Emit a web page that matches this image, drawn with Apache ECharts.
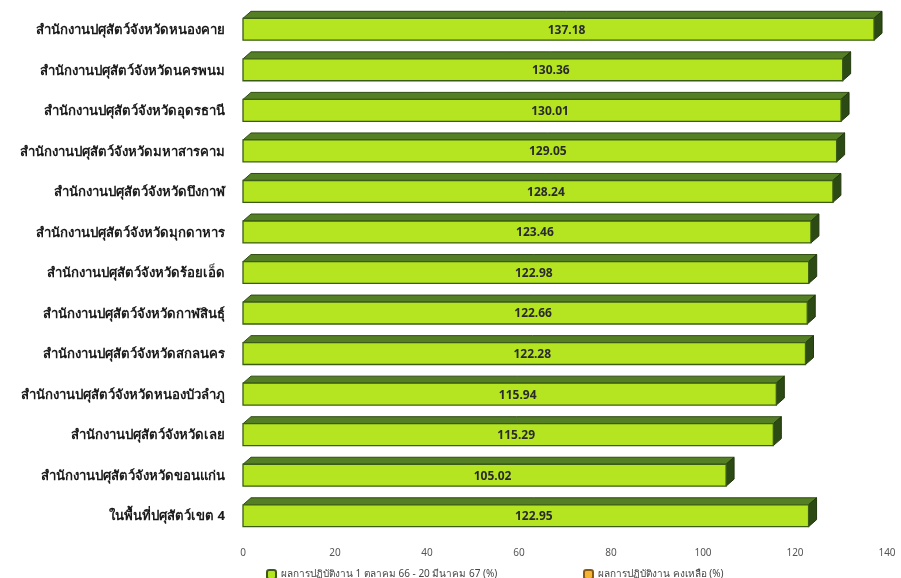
<!DOCTYPE html>
<html>
<head>
<meta charset="utf-8">
<script src="https://cdn.jsdelivr.net/npm/echarts@6/dist/echarts.min.js"></script>
<style>html,body{margin:0;padding:0;background:#fff}#c{width:901px;height:578px}</style>
</head>
<body>
<div id="c"></div>
<script>
var categories = [
  'สำนักงานปศุสัตว์จังหวัดหนองคาย',
  'สำนักงานปศุสัตว์จังหวัดนครพนม',
  'สำนักงานปศุสัตว์จังหวัดอุดรธานี',
  'สำนักงานปศุสัตว์จังหวัดมหาสารคาม',
  'สำนักงานปศุสัตว์จังหวัดบึงกาฬ',
  'สำนักงานปศุสัตว์จังหวัดมุกดาหาร',
  'สำนักงานปศุสัตว์จังหวัดร้อยเอ็ด',
  'สำนักงานปศุสัตว์จังหวัดกาฬสินธุ์',
  'สำนักงานปศุสัตว์จังหวัดสกลนคร',
  'สำนักงานปศุสัตว์จังหวัดหนองบัวลำภู',
  'สำนักงานปศุสัตว์จังหวัดเลย',
  'สำนักงานปศุสัตว์จังหวัดขอนแก่น',
  'ในพื้นที่ปศุสัตว์เขต 4'
];
var performance = [137.18, 130.36, 130.01, 129.05, 128.24, 123.46, 122.98, 122.66, 122.28, 115.94, 115.29, 105.02, 122.95];
var remaining = [];
var seriesNames = ['ผลการปฏิบัติงาน 1 ตุลาคม 66 - 20 มีนาคม 67 (%)', 'ผลการปฏิบัติงาน คงเหลือ (%)'];

var chart = echarts.init(document.getElementById('c'));
var FONT = "'Noto Sans', 'DejaVu Sans', sans-serif";

function renderBar3D(params, api) {
  var v = api.value(0);
  var c = api.value(1);
  var start = api.coord([0, c]);
  var end = api.coord([v, c]);
  var band = api.size([0, 1])[1];
  var h = band * 0.54;
  var dx = 8, dy = 7;
  var x0 = start[0], x1 = end[0];
  var y0 = start[1] - h / 2 - 1, y1 = y0 + h;
  return {
    type: 'group',
    children: [
      { type: 'polygon', shape: { points: [[x0, y0], [x0 + dx, y0 - dy], [x1 + dx, y0 - dy], [x1, y0]] },
        style: { fill: '#557f24', stroke: '#2e4c12', lineWidth: 1 } },
      { type: 'polygon', shape: { points: [[x1, y0], [x1 + dx, y0 - dy], [x1 + dx, y1 - dy], [x1, y1]] },
        style: { fill: '#2c4a14', stroke: '#22380e', lineWidth: 1 } },
      { type: 'rect', shape: { x: x0, y: y0, width: x1 - x0, height: h },
        style: { fill: '#b4e520', stroke: '#3b5c16', lineWidth: 1.3 } },
      { type: 'text', style: { text: v.toFixed(2), x: (x0 + x1) / 2 + 8, y: (y0 + y1) / 2 + 1,
        align: 'center', verticalAlign: 'middle', fill: '#2a2a2a', font: 'bold 12px ' + FONT } }
    ]
  };
}

chart.setOption({
  animation: false,
  backgroundColor: '#ffffff',
  grid: { left: 243, right: 14, top: 10, bottom: 41 },
  xAxis: {
    type: 'value', min: 0, max: 140, interval: 20,
    axisLine: { show: false }, axisTick: { show: false }, splitLine: { show: false },
    axisLabel: { color: '#555', fontSize: 10, margin: 11, fontFamily: FONT }
  },
  yAxis: {
    type: 'category', data: categories, inverse: true,
    axisLine: { show: false }, axisTick: { show: false },
    axisLabel: { color: '#1a1a1a', fontSize: 13.2, fontWeight: 'bold', margin: 18, fontFamily: FONT }
  },
  legend: [
    { data: [seriesNames[0]], left: 261, top: 564, itemWidth: 9, itemHeight: 9, itemGap: 4,
      textStyle: { fontSize: 10, color: '#444', fontFamily: FONT } },
    { data: [seriesNames[1]], left: 578, top: 564, itemWidth: 9, itemHeight: 9, itemGap: 4,
      textStyle: { fontSize: 10, color: '#444', fontFamily: FONT } }
  ],
  series: [
    {
      name: seriesNames[0], type: 'custom',
      itemStyle: { color: '#b4e520', borderColor: '#3b5c16', borderWidth: 1 },
      encode: { x: 0, y: 1 },
      data: performance.map(function (v, i) { return [v, i]; }),
      renderItem: renderBar3D
    },
    {
      name: seriesNames[1], type: 'bar', stack: 'a',
      itemStyle: { color: '#f5b431', borderColor: '#8a5a10', borderWidth: 1 },
      data: remaining
    }
  ]
});
</script>
</body>
</html>
